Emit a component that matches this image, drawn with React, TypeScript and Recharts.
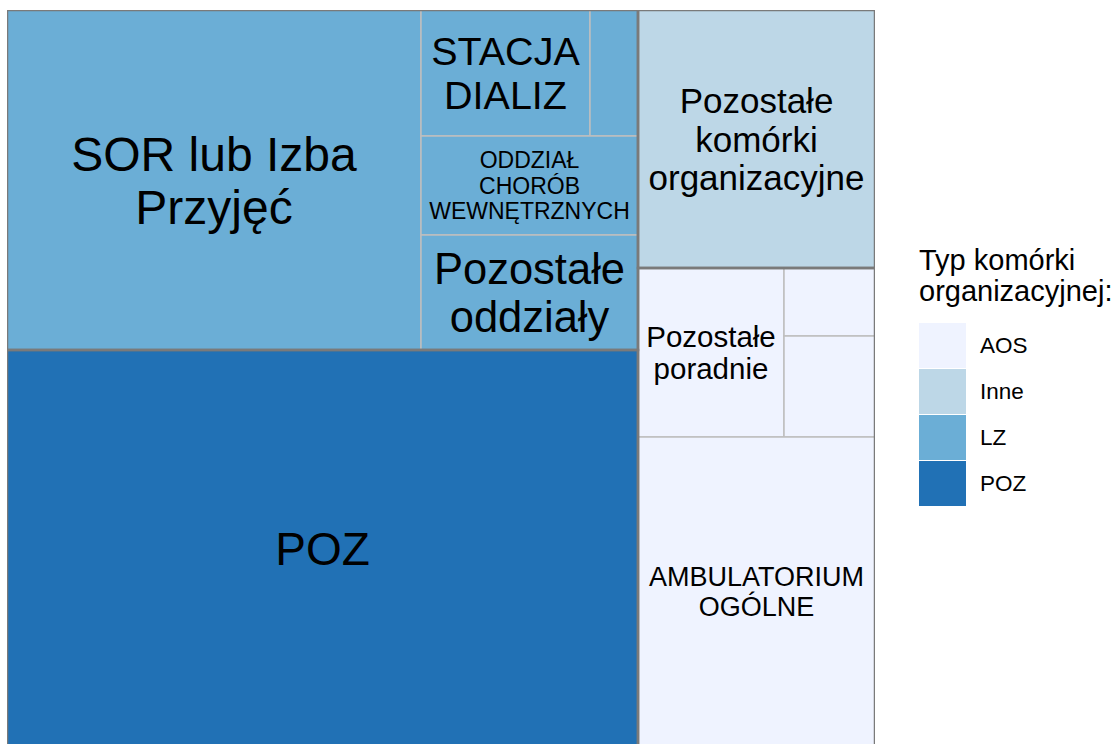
import React from 'react';
import { Treemap } from 'recharts';

// typy komórek i kolory (Blues)
const types = ['AOS', 'Inne', 'LZ', 'POZ'];
const typeColors = ['#eff3ff', '#bdd7e7', '#6baed6', '#2171b5'];

// LZ
const lzNames = ['SOR lub Izba\nPrzyjęć', 'STACJA\nDIALIZ', '', 'ODDZIAŁ\nCHORÓB\nWEWNĘTRZNYCH', 'Pozostałe\noddziały'];
const lzValues = [140760, 21294, 6048, 21483, 24955];

// POZ
const pozNames = ['POZ'];
const pozValues = [249876];

// Inne
const inneNames = ['Pozostałe\nkomórki\norganizacyjne'];
const inneValues = [61146];

// AOS: poradnie + dwie małe komórki w górnym bloku, ambulatorium pod spodem
const aosTopNames = ['Pozostałe\nporadnie'];
const aosTopValues = [24674];
const aosSmallNames = ['', ''];
const aosSmallValues = [6188, 9191];
const aosRestNames = ['AMBULATORIUM\nOGÓLNE'];
const aosRestValues = [73233];

// rozmiar etykiet (px)
const labelSize: Record<string, number> = {
  'SOR lub Izba\nPrzyjęć': 48,
  'STACJA\nDIALIZ': 39.5,
  'ODDZIAŁ\nCHORÓB\nWEWNĘTRZNYCH': 23,
  'Pozostałe\noddziały': 43.5,
  POZ: 46,
  'Pozostałe\nkomórki\norganizacyjne': 35,
  'Pozostałe\nporadnie': 29.5,
  'AMBULATORIUM\nOGÓLNE': 27,
};

const FONT = '"Liberation Sans", Arial, sans-serif';
const W = 868;
const H = 736;

const leaves = (names: string[], values: number[], type: string) =>
  names.map((name, i) => ({ name, value: values[i], type, leaf: true }));

const data = [
  { name: 'LZ', type: 'LZ', group: true, children: leaves(lzNames, lzValues, 'LZ') },
  { name: 'POZ', type: 'POZ', group: true, children: leaves(pozNames, pozValues, 'POZ') },
  { name: 'Inne', type: 'Inne', group: true, children: leaves(inneNames, inneValues, 'Inne') },
  {
    name: 'AOS',
    type: 'AOS',
    group: true,
    children: [
      {
        name: 'AOS-top',
        children: [
          ...leaves(aosTopNames, aosTopValues, 'AOS'),
          { name: 'AOS-small', children: leaves(aosSmallNames, aosSmallValues, 'AOS') },
        ],
      },
      ...leaves(aosRestNames, aosRestValues, 'AOS'),
    ],
  },
];

const Tile = (p: any) => {
  if (!p.leaf) return null;
  const { x, y, width, height, name, type } = p;
  const fill = typeColors[types.indexOf(type)];
  const lines: string[] = name ? String(name).split('\n') : [];
  const fs = labelSize[name] ?? 20;
  const lh = fs * 1.1;
  const cx = x + width / 2;
  const cy = y + height / 2;
  return (
    <g>
      <rect x={x} y={y} width={width} height={height} fill={fill} stroke="#bebebe" strokeWidth={1.5} />
      {lines.length > 0 && (
        <text textAnchor="middle" fontSize={fs} fontFamily={FONT} fill="#000">
          {lines.map((l, i) => (
            <tspan key={i} x={cx} y={cy + (i - (lines.length - 1) / 2) * lh + 0.36 * fs}>
              {l}
            </tspan>
          ))}
        </text>
      )}
    </g>
  );
};

const GroupBorder = (p: any) => {
  if (!p.group) return null;
  return <rect x={p.x} y={p.y} width={p.width} height={p.height} fill="none" stroke="#7a7a7a" strokeWidth={2.5} />;
};

export default function App() {
  return (
    <div
      style={{
        position: 'absolute',
        left: 0,
        top: 0,
        width: 1115,
        height: 744,
        overflow: 'hidden',
        background: '#fff',
        fontFamily: FONT,
      }}
    >
      <div style={{ position: 'absolute', left: 7, top: 10 }}>
        <Treemap
          width={W}
          height={H}
          data={data}
          dataKey="value"
          nameKey="name"
          isAnimationActive={false}
          content={(p: any) => <Tile {...p} />}
        />
      </div>
      <div style={{ position: 'absolute', left: 7, top: 10, pointerEvents: 'none' }}>
        <Treemap
          width={W}
          height={H}
          data={data}
          dataKey="value"
          nameKey="name"
          isAnimationActive={false}
          content={(p: any) => <GroupBorder {...p} />}
        />
      </div>

      {/* legenda */}
      <div style={{ position: 'absolute', left: 919, top: 245, fontSize: 29, lineHeight: '31px', color: '#000' }}>
        Typ komórki
        <br />
        organizacyjnej:
      </div>
      {types.map((t, i) => (
        <div
          key={t}
          style={{ position: 'absolute', left: 919, top: 323 + i * 46, height: 46, display: 'flex', alignItems: 'center' }}
        >
          <div style={{ width: 47, height: 45, marginBottom: 1, background: typeColors[i] }} />
          <div style={{ marginLeft: 14, fontSize: 22.5, color: '#000' }}>{t}</div>
        </div>
      ))}
    </div>
  );
}
